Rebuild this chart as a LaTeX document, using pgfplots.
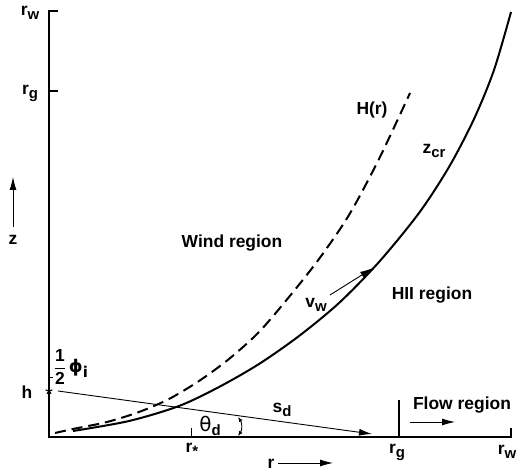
\documentclass[border=0pt]{standalone}
\usepackage{pgfplots}
\pgfplotsset{compat=1.18}
\usetikzlibrary{arrows.meta}
\usepackage{fontspec}
\setmainfont{Liberation Sans}
\newfontfamily\dejavu{DejaVu Sans}
\newcommand{\lab}[2]{#1\raisebox{-0.45ex}{\fontsize{15}{17}\selectfont #2}}

\begin{document}
\begin{tikzpicture}[font=\fontsize{17.5}{20}\selectfont\bfseries]
\begin{axis}[x=1bp,y=1bp, xmin=0,xmax=462,ymin=0,ymax=426, hide axis, clip=false]
% frame axes
\draw[line width=1.4bp] (axis cs:9,426) -- (axis cs:0,426) -- (axis cs:0,0) -- (axis cs:462,0) -- (axis cs:462,9);
\draw[line width=1.2bp] (axis cs:0,346) -- (axis cs:9,346);
\draw[line width=1.2bp] (axis cs:350,0) -- (axis cs:350,37);
\draw[line width=1bp] (axis cs:142,0) -- (axis cs:142,9);
\draw[line width=0.8bp] (axis cs:0,60) -- (axis cs:4,60);
\addplot[only marks, mark=star, mark size=3.5, line width=1.1bp, black] coordinates {(0,46)};

% z_cr solid curve
\addplot[smooth, line width=2bp, black] coordinates {
(24,6) (80,16) (130,31) (170,50) (210,73) (250,101) (290,134) (330,175) (370,224) (400,270) (425,318) (445,367) (462,425)};
% H(r) dashed curve
\addplot[smooth, line width=2bp, black, dash pattern=on 11bp off 6bp] coordinates {
(6,4) (24,8) (58,15) (90,25) (120,38) (150,56) (180,78) (210,105) (240,140) (270,178) (300,222) (330,278) (361,344)};
% s_d line
\addplot[line width=0.9bp, black, -{Latex[length=13bp,width=7bp]}] coordinates {(9,46) (323,3)};
% v_w arrow
\addplot[line width=0.9bp, black, -{Latex[length=13bp,width=7bp]}] coordinates {(281,142) (324,169)};
% theta arc
\draw[line width=0.9bp, {Latex[length=5bp,width=4bp]}-{Latex[length=5bp,width=4bp]}] (axis cs:189,1) to[bend right=35] (axis cs:189,20);
% flow arrow
\draw[line width=0.9bp, -{Latex[length=13bp,width=7bp]}] (axis cs:361,15) -- (axis cs:406,15);
% r arrow
\draw[line width=0.9bp, -{Latex[length=13bp,width=7bp]}] (axis cs:229,-26) -- (axis cs:284,-26);
% z arrow
\draw[line width=0.9bp, -{Latex[length=13bp,width=7bp]}] (axis cs:-36,210) -- (axis cs:-36,260);

% labels
\node at (axis cs:-19,424) {\lab{r}{w}};
\node at (axis cs:-19,344) {\lab{r}{g}};
\node at (axis cs:-36,197) {z};
\node at (axis cs:-22,45) {h};
\node at (axis cs:22,70) {$\displaystyle\frac{\mbox{\bfseries 1}}{\mbox{\bfseries 2}}$\,\lab{\dejavu\bfseries ϕ}{i}};
\node at (axis cs:143,-13) {\lab{r}{*}};
\node at (axis cs:348,-15) {\lab{r}{g}};
\node at (axis cs:458,-15) {\lab{r}{w}};
\node at (axis cs:222,-27) {r};
\node at (axis cs:161,11) {\lab{{\dejavu\mdseries\fontsize{20}{22}\selectfont θ}}{d}};
\node at (axis cs:233,27) {\lab{s}{d}};
\node at (axis cs:413,32) {Flow region};
\node at (axis cs:183,194) {Wind region};
\node at (axis cs:383,142) {HII region};
\node at (axis cs:267,132) {\lab{v}{w}};
\node at (axis cs:323,327) {H(r)};
\node at (axis cs:385,286) {\lab{z}{cr}};
\coordinate (bl) at (axis cs:-49,-37);
\coordinate (tr) at (axis cs:469,437);
\end{axis}
\pgfresetboundingbox
\path[use as bounding box] (bl) rectangle (tr);
\end{tikzpicture}
\end{document}
